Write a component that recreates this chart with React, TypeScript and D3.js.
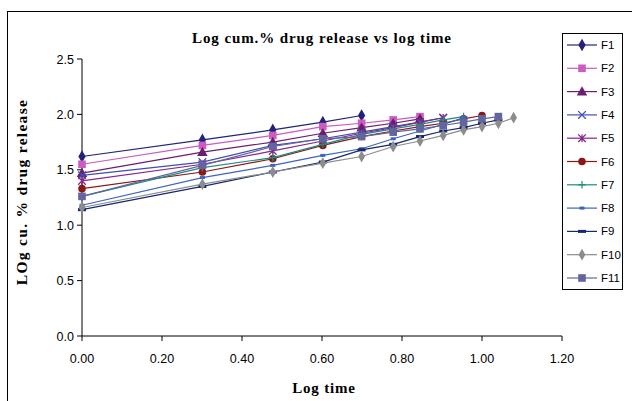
import React from "react";
import * as d3 from "d3";

// log10 of hours 1..12
const logTime = [0, 0.301, 0.477, 0.602, 0.699, 0.778, 0.845, 0.903, 0.954, 1.0, 1.041, 1.079];

const names = ["F1", "F2", "F3", "F4", "F5", "F6", "F7", "F8", "F9", "F10", "F11"];

const f1 = [1.62, 1.77, 1.86, 1.93, 1.99];
const f2 = [1.55, 1.72, 1.81, 1.89, 1.92, 1.95, 1.98];
const f3 = [1.47, 1.66, 1.75, 1.83, 1.88, 1.92, 1.96];
const f4 = [1.45, 1.57, 1.72, 1.78, 1.84, 1.89, 1.93, 1.97];
const f5 = [1.4, 1.55, 1.67, 1.76, 1.83, 1.88, 1.93, 1.97];
const f6 = [1.33, 1.48, 1.6, 1.72, 1.8, 1.85, 1.89, 1.92, 1.96, 1.99];
const f7 = [1.26, 1.52, 1.61, 1.73, 1.82, 1.87, 1.91, 1.95, 1.98];
const f8 = [1.18, 1.43, 1.54, 1.63, 1.69, 1.78, 1.85, 1.91, 1.97];
const f9 = [1.14, 1.35, 1.48, 1.57, 1.68, 1.73, 1.8, 1.85, 1.88, 1.92, 1.95];
const f10 = [1.16, 1.37, 1.48, 1.56, 1.62, 1.71, 1.76, 1.81, 1.86, 1.89, 1.92, 1.97];
const f11 = [1.26, 1.54, 1.71, 1.78, 1.8, 1.84, 1.87, 1.9, 1.93, 1.96, 1.98];

const seriesValues = [f1, f2, f3, f4, f5, f6, f7, f8, f9, f10, f11];

const colors = [
  "#22227a", "#cc5cbd", "#6a1f6e", "#3f4fb3", "#85258e", "#8a1818",
  "#1d8c80", "#3c62c4", "#16286e", "#8c8c8c", "#64649e",
];
const markers = ["diamond", "square", "triangle", "x", "star", "circle", "plus", "dash", "longdash", "diamond", "square"];

const xTicks = [0, 0.2, 0.4, 0.6, 0.8, 1.0, 1.2];
const yTicks = [0, 0.5, 1.0, 1.5, 2.0, 2.5];

function Marker({ kind, x, y, color, small }: { kind: string; x: number; y: number; color: string; small?: boolean }) {
  const s = small ? 3 : 3.8;
  switch (kind) {
    case "diamond":
      return <path d={d3.symbol(d3.symbolDiamond, small ? 40 : 46)()!} transform={`translate(${x},${y})`} fill={color} />;
    case "square":
      return <rect x={x - s} y={y - s} width={2 * s} height={2 * s} fill={color} />;
    case "triangle":
      return <path d={d3.symbol(d3.symbolTriangle, 48)()!} transform={`translate(${x},${y + 0.8})`} fill={color} />;
    case "circle":
      return <circle cx={x} cy={y} r={s} fill={color} />;
    case "x":
      return (
        <path d={`M${x - s},${y - s}L${x + s},${y + s}M${x - s},${y + s}L${x + s},${y - s}`} stroke={color} strokeWidth={1.3} />
      );
    case "star":
      return (
        <path
          d={`M${x - s},${y - s}L${x + s},${y + s}M${x - s},${y + s}L${x + s},${y - s}M${x},${y - s}L${x},${y + s}`}
          stroke={color}
          strokeWidth={1.3}
        />
      );
    case "plus":
      return <path d={`M${x - s},${y}L${x + s},${y}M${x},${y - s}L${x},${y + s}`} stroke={color} strokeWidth={1.2} />;
    case "dash":
      return <rect x={x - 2.5} y={y - 1.5} width={5} height={3} fill={color} />;
    case "longdash":
      return <rect x={x - 4} y={y - 1.5} width={8} height={3} fill={color} />;
    default:
      return null;
  }
}

export default function App() {
  const width = 632;
  const height = 401;
  const plot = { left: 82, right: 562, top: 59, bottom: 336 };

  const x = d3.scaleLinear().domain([0, 1.2]).range([plot.left, plot.right]);
  const y = d3.scaleLinear().domain([0, 2.5]).range([plot.bottom, plot.top]);

  const line = d3
    .line<number>()
    .x((_, i) => x(logTime[i]))
    .y((d) => y(d));

  const legend = { x: 562.5, y: 33.5, w: 60, h: 256, step: 23.3 };

  return (
    <svg width={width} height={height} style={{ position: "absolute", left: 0, top: 0 }}>
      <rect x={0} y={0} width={width} height={height} fill="#fff" />
      <rect x={7.5} y={11.5} width={width} height={height} fill="none" stroke="#000" strokeWidth={1} />

      <text
        x={322}
        y={43}
        textAnchor="middle"
        fontFamily="Liberation Serif"
        fontWeight="bold"
        fontSize={15}
        letterSpacing={0.9}
      >
        Log cum.% drug release vs log time
      </text>

      {/* y axis */}
      <line x1={plot.left} x2={plot.left} y1={plot.top} y2={plot.bottom} stroke="#000" />
      {yTicks.map((t) => (
        <g key={t}>
          <line x1={plot.left - 5} x2={plot.left} y1={y(t)} y2={y(t)} stroke="#000" />
          <text x={plot.left - 8} y={y(t) + 4.5} textAnchor="end" fontFamily="Liberation Sans" fontSize={12.5}>
            {d3.format(".1f")(t)}
          </text>
        </g>
      ))}

      {/* x axis */}
      <line x1={plot.left} x2={plot.right} y1={plot.bottom} y2={plot.bottom} stroke="#000" />
      {xTicks.map((t) => (
        <g key={t}>
          <line x1={x(t)} x2={x(t)} y1={plot.bottom} y2={plot.bottom + 5} stroke="#000" />
          <text x={x(t)} y={plot.bottom + 27} textAnchor="middle" fontFamily="Liberation Sans" fontSize={12.5}>
            {d3.format(".2f")(t)}
          </text>
        </g>
      ))}

      <text
        x={324}
        y={393}
        textAnchor="middle"
        fontFamily="Liberation Serif"
        fontWeight="bold"
        fontSize={15}
        letterSpacing={0.8}
      >
        Log time
      </text>
      <text
        transform={`translate(27,192) rotate(-90)`}
        textAnchor="middle"
        fontFamily="Liberation Serif"
        fontWeight="bold"
        fontSize={15.5}
        letterSpacing={1.3}
      >
        LOg cu. % drug release
      </text>

      {/* series */}
      {seriesValues.map((vals, si) => (
        <g key={names[si]}>
          <path d={line(vals)!} fill="none" stroke={colors[si]} strokeWidth={1.2} />
          {vals.map((v, i) => (
            <Marker key={i} kind={markers[si]} x={x(logTime[i])} y={y(v)} color={colors[si]} small={si === 9} />
          ))}
        </g>
      ))}

      {/* legend */}
      <rect x={legend.x} y={legend.y} width={legend.w} height={legend.h} fill="#fff" stroke="#000" />
      {names.map((n, i) => {
        const ly = 45 + i * legend.step;
        return (
          <g key={n}>
            <line x1={567} x2={597} y1={ly} y2={ly} stroke={colors[i]} strokeWidth={1.2} />
            <Marker kind={markers[i]} x={582} y={ly} color={colors[i]} small={i === 9} />
            <text x={601} y={ly + 4} fontFamily="Liberation Sans" fontSize={11.5}>
              {n}
            </text>
          </g>
        );
      })}
    </svg>
  );
}
